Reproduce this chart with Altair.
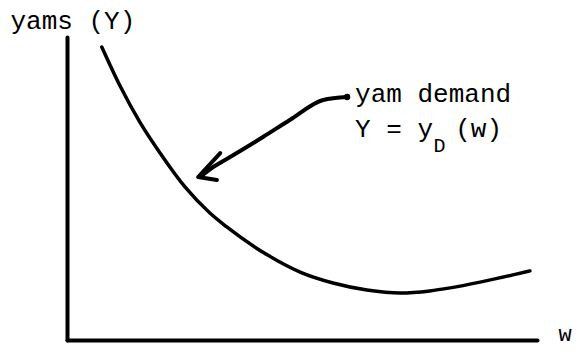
import altair as alt
import pandas as pd

# Demand curve Y = y_D(w) (w and Y in arbitrary units 0-100)
curve_w = [7.4, 11.3, 15.5, 19.8, 25.1, 30.4, 34.0, 42.6, 49.6, 56.6, 63.8, 70.9, 77.2, 81.5, 87.9, 94.9, 98.5]
curve_y = [96.7, 83.8, 71.9, 61.7, 50.5, 41.9, 37.3, 28.1, 22.4, 18.8, 16.5, 15.5, 16.2, 17.2, 19.1, 21.5, 22.8]

# Hand-drawn pointer arrow (tail near label, tip near curve)
arrow_w = [59.6, 54.5, 47.4, 41.7, 34.7, 31.1, 28.3]
arrow_y = [80.2, 79.2, 72.6, 67.0, 60.4, 57.1, 53.8]

# Arrow head (barb, tip, barb)
head_w = [32.6, 27.9, 31.9]
head_y = [61.7, 53.8, 52.8]

# Labels
main_text = ["yam demand", "Y = y", "(w)"]
main_w = [61.3, 61.3, 82.6]
main_y = [78.5, 67.0, 67.0]
sub_text = ["D"]
sub_w = [78.0]
sub_y = [62.0]

FONT = "Liberation Mono"

curve_df = pd.DataFrame({"x": curve_w, "y": curve_y})
arrow_df = pd.DataFrame({"x": arrow_w, "y": arrow_y, "o": list(range(len(arrow_w)))})
head_df = pd.DataFrame({"x": head_w, "y": head_y, "o": list(range(len(head_w)))})
tail_df = pd.DataFrame({"x": arrow_w[:1], "y": arrow_y[:1]})
main_df = pd.DataFrame({"x": main_w, "y": main_y, "t": main_text})
sub_df = pd.DataFrame({"x": sub_w, "y": sub_y, "t": sub_text})

X = alt.X(
    "x:Q",
    scale=alt.Scale(domain=[0, 100], nice=False, zero=False),
    axis=alt.Axis(
        title="w", labels=False, ticks=False, grid=False,
        domainColor="black", domainWidth=4, domainCap="round",
        titleX=491, titleY=0, titleAlign="left", titleBaseline="alphabetic",
        titleFont=FONT, titleFontSize=22, titleFontWeight="normal", titleColor="black",
    ),
)
Y = alt.Y(
    "y:Q",
    scale=alt.Scale(domain=[0, 100], nice=False, zero=False),
    axis=alt.Axis(
        title="yams (Y)", labels=False, ticks=False, grid=False,
        domainColor="black", domainWidth=4, domainCap="round",
        titleAngle=0, titleX=-57, titleY=-9, titleAlign="left", titleBaseline="alphabetic",
        titleFont=FONT, titleFontSize=26, titleFontWeight="normal", titleColor="black",
    ),
)

curve = alt.Chart(curve_df).mark_line(
    color="black", strokeWidth=3.5, interpolate="monotone", strokeCap="round"
).encode(x=X, y=Y)

arrow = alt.Chart(arrow_df).mark_line(
    color="black", strokeWidth=4, interpolate="monotone", strokeCap="round"
).encode(x=X, y=Y, order="o:Q")

head = alt.Chart(head_df).mark_line(
    color="black", strokeWidth=4, strokeCap="round", strokeJoin="round"
).encode(x=X, y=Y, order="o:Q")

tail = alt.Chart(tail_df).mark_point(
    color="black", filled=True, size=40, opacity=1
).encode(x=X, y=Y)

labels = alt.Chart(main_df).mark_text(
    font=FONT, fontSize=26, align="left", baseline="alphabetic", color="black"
).encode(x=X, y=Y, text="t:N")

sub = alt.Chart(sub_df).mark_text(
    font=FONT, fontSize=20, align="left", baseline="alphabetic", color="black"
).encode(x=X, y=Y, text="t:N")

chart = alt.layer(curve, arrow, head, tail, labels, sub).properties(
    width=470,
    height=303,
    autosize=alt.AutoSizeParams(type="none"),
    padding={"left": 59, "top": 29, "right": 36, "bottom": 6},
    background="white",
).configure_view(strokeWidth=0)

chart.save("out.html", embed_options={"renderer": "svg", "actions": False})
